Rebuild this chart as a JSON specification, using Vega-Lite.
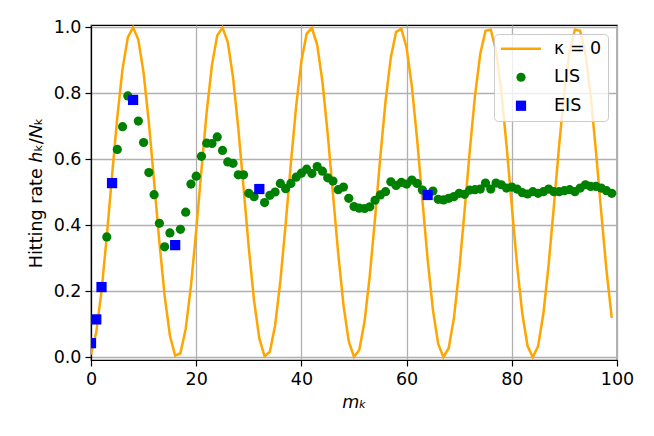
{
  "$schema": "https://vega.github.io/schema/vega-lite/v6.json",
  "width": 526,
  "height": 335,
  "autosize": {"type": "none"},
  "padding": {"left": 91, "top": 25, "right": 37, "bottom": 76},
  "background": "white",
  "datasets": {
    "kappa": [
      {"m":0,"h":0.0086,"s":"κ = 0"},{"m":1,"h":0.0758,"s":"κ = 0"},{"m":2,"h":0.2009,"s":"κ = 0"},{"m":3,"h":0.3668,"s":"κ = 0"},{"m":4,"h":0.5509,"s":"κ = 0"},
      {"m":5,"h":0.7280,"s":"κ = 0"},{"m":6,"h":0.8743,"s":"κ = 0"},{"m":7,"h":0.9695,"s":"κ = 0"},{"m":8,"h":0.9999,"s":"κ = 0"},{"m":9,"h":0.9623,"s":"κ = 0"},
      {"m":10,"h":0.8619,"s":"κ = 0"},{"m":11,"h":0.7115,"s":"κ = 0"},{"m":12,"h":0.5326,"s":"κ = 0"},{"m":13,"h":0.3490,"s":"κ = 0"},{"m":14,"h":0.1862,"s":"κ = 0"},
      {"m":15,"h":0.0662,"s":"κ = 0"},{"m":16,"h":0.0055,"s":"κ = 0"},{"m":17,"h":0.0124,"s":"κ = 0"},{"m":18,"h":0.0859,"s":"κ = 0"},{"m":19,"h":0.2160,"s":"κ = 0"},
      {"m":20,"h":0.3847,"s":"κ = 0"},{"m":21,"h":0.5691,"s":"κ = 0"},{"m":22,"h":0.7443,"s":"κ = 0"},{"m":23,"h":0.8861,"s":"κ = 0"},{"m":24,"h":0.9752,"s":"κ = 0"},
      {"m":25,"h":0.9992,"s":"κ = 0"},{"m":26,"h":0.9554,"s":"κ = 0"},{"m":27,"h":0.8486,"s":"κ = 0"},{"m":28,"h":0.6945,"s":"κ = 0"},{"m":29,"h":0.5140,"s":"κ = 0"},
      {"m":30,"h":0.3315,"s":"κ = 0"},{"m":31,"h":0.1719,"s":"κ = 0"},{"m":32,"h":0.0573,"s":"κ = 0"},{"m":33,"h":0.0031,"s":"κ = 0"},{"m":34,"h":0.0168,"s":"κ = 0"},
      {"m":35,"h":0.0966,"s":"κ = 0"},{"m":36,"h":0.2314,"s":"κ = 0"},{"m":37,"h":0.4030,"s":"κ = 0"},{"m":38,"h":0.5880,"s":"κ = 0"},{"m":39,"h":0.7608,"s":"κ = 0"},
      {"m":40,"h":0.8977,"s":"κ = 0"},{"m":41,"h":0.9807,"s":"κ = 0"},{"m":42,"h":0.9978,"s":"κ = 0"},{"m":43,"h":0.9471,"s":"κ = 0"},{"m":44,"h":0.8350,"s":"κ = 0"},
      {"m":45,"h":0.6773,"s":"κ = 0"},{"m":46,"h":0.4955,"s":"κ = 0"},{"m":47,"h":0.3141,"s":"κ = 0"},{"m":48,"h":0.1581,"s":"κ = 0"},{"m":49,"h":0.0489,"s":"κ = 0"},
      {"m":50,"h":0.0014,"s":"κ = 0"},{"m":51,"h":0.0220,"s":"κ = 0"},{"m":52,"h":0.1078,"s":"κ = 0"},{"m":53,"h":0.2474,"s":"κ = 0"},{"m":54,"h":0.4213,"s":"κ = 0"},
      {"m":55,"h":0.6064,"s":"κ = 0"},{"m":56,"h":0.7768,"s":"κ = 0"},{"m":57,"h":0.9087,"s":"κ = 0"},{"m":58,"h":0.9855,"s":"κ = 0"},{"m":59,"h":0.9958,"s":"κ = 0"},
      {"m":60,"h":0.9383,"s":"κ = 0"},{"m":61,"h":0.8212,"s":"κ = 0"},{"m":62,"h":0.6601,"s":"κ = 0"},{"m":63,"h":0.4768,"s":"κ = 0"},{"m":64,"h":0.2969,"s":"κ = 0"},
      {"m":65,"h":0.1448,"s":"κ = 0"},{"m":66,"h":0.0412,"s":"κ = 0"},{"m":67,"h":0.0004,"s":"κ = 0"},{"m":68,"h":0.0277,"s":"κ = 0"},{"m":69,"h":0.1197,"s":"κ = 0"},
      {"m":70,"h":0.2634,"s":"κ = 0"},{"m":71,"h":0.4397,"s":"κ = 0"},{"m":72,"h":0.6245,"s":"κ = 0"},{"m":73,"h":0.7921,"s":"κ = 0"},{"m":74,"h":0.9190,"s":"κ = 0"},
      {"m":75,"h":0.9896,"s":"κ = 0"},{"m":76,"h":0.9930,"s":"κ = 0"},{"m":77,"h":0.9290,"s":"κ = 0"},{"m":78,"h":0.8065,"s":"κ = 0"},{"m":79,"h":0.6421,"s":"κ = 0"},
      {"m":80,"h":0.4584,"s":"κ = 0"},{"m":81,"h":0.2800,"s":"κ = 0"},{"m":82,"h":0.1320,"s":"κ = 0"},{"m":83,"h":0.0342,"s":"κ = 0"},{"m":84,"h":0.0000,"s":"κ = 0"},
      {"m":85,"h":0.0342,"s":"κ = 0"},{"m":86,"h":0.1320,"s":"κ = 0"},{"m":87,"h":0.2800,"s":"κ = 0"},{"m":88,"h":0.4584,"s":"κ = 0"},{"m":89,"h":0.6421,"s":"κ = 0"},
      {"m":90,"h":0.8065,"s":"κ = 0"},{"m":91,"h":0.9290,"s":"κ = 0"},{"m":92,"h":0.9930,"s":"κ = 0"},{"m":93,"h":0.9896,"s":"κ = 0"},{"m":94,"h":0.9190,"s":"κ = 0"},
      {"m":95,"h":0.7921,"s":"κ = 0"},{"m":96,"h":0.6245,"s":"κ = 0"},{"m":97,"h":0.4397,"s":"κ = 0"},{"m":98,"h":0.2634,"s":"κ = 0"},{"m":99,"h":0.1197,"s":"κ = 0"}
    ],
    "lis": [
      {"m":0,"h":0.043,"s":"LIS"},{"m":1,"h":0.115,"s":"LIS"},{"m":2,"h":0.213,"s":"LIS"},{"m":3,"h":0.365,"s":"LIS"},{"m":4,"h":0.528,"s":"LIS"},
      {"m":5,"h":0.630,"s":"LIS"},{"m":6,"h":0.699,"s":"LIS"},{"m":7,"h":0.792,"s":"LIS"},{"m":8,"h":0.780,"s":"LIS"},{"m":9,"h":0.716,"s":"LIS"},
      {"m":10,"h":0.651,"s":"LIS"},{"m":11,"h":0.560,"s":"LIS"},{"m":12,"h":0.493,"s":"LIS"},{"m":13,"h":0.406,"s":"LIS"},{"m":14,"h":0.335,"s":"LIS"},
      {"m":15,"h":0.377,"s":"LIS"},{"m":16,"h":0.340,"s":"LIS"},{"m":17,"h":0.388,"s":"LIS"},{"m":18,"h":0.440,"s":"LIS"},{"m":19,"h":0.525,"s":"LIS"},
      {"m":20,"h":0.549,"s":"LIS"},{"m":21,"h":0.609,"s":"LIS"},{"m":22,"h":0.649,"s":"LIS"},{"m":23,"h":0.648,"s":"LIS"},{"m":24,"h":0.668,"s":"LIS"},
      {"m":25,"h":0.627,"s":"LIS"},{"m":26,"h":0.592,"s":"LIS"},{"m":27,"h":0.588,"s":"LIS"},{"m":28,"h":0.553,"s":"LIS"},{"m":29,"h":0.553,"s":"LIS"},
      {"m":30,"h":0.497,"s":"LIS"},{"m":31,"h":0.487,"s":"LIS"},{"m":32,"h":0.510,"s":"LIS"},{"m":33,"h":0.469,"s":"LIS"},{"m":34,"h":0.491,"s":"LIS"},
      {"m":35,"h":0.501,"s":"LIS"},{"m":36,"h":0.527,"s":"LIS"},{"m":37,"h":0.511,"s":"LIS"},{"m":38,"h":0.527,"s":"LIS"},{"m":39,"h":0.546,"s":"LIS"},
      {"m":40,"h":0.558,"s":"LIS"},{"m":41,"h":0.570,"s":"LIS"},{"m":42,"h":0.557,"s":"LIS"},{"m":43,"h":0.578,"s":"LIS"},{"m":44,"h":0.564,"s":"LIS"},
      {"m":45,"h":0.544,"s":"LIS"},{"m":46,"h":0.534,"s":"LIS"},{"m":47,"h":0.508,"s":"LIS"},{"m":48,"h":0.516,"s":"LIS"},{"m":49,"h":0.482,"s":"LIS"},
      {"m":50,"h":0.457,"s":"LIS"},{"m":51,"h":0.452,"s":"LIS"},{"m":52,"h":0.451,"s":"LIS"},{"m":53,"h":0.456,"s":"LIS"},{"m":54,"h":0.476,"s":"LIS"},
      {"m":55,"h":0.492,"s":"LIS"},{"m":56,"h":0.502,"s":"LIS"},{"m":57,"h":0.532,"s":"LIS"},{"m":58,"h":0.521,"s":"LIS"},{"m":59,"h":0.530,"s":"LIS"},
      {"m":60,"h":0.525,"s":"LIS"},{"m":61,"h":0.537,"s":"LIS"},{"m":62,"h":0.527,"s":"LIS"},{"m":63,"h":0.507,"s":"LIS"},{"m":64,"h":0.492,"s":"LIS"},
      {"m":65,"h":0.504,"s":"LIS"},{"m":66,"h":0.479,"s":"LIS"},{"m":67,"h":0.477,"s":"LIS"},{"m":68,"h":0.482,"s":"LIS"},{"m":69,"h":0.487,"s":"LIS"},
      {"m":70,"h":0.497,"s":"LIS"},{"m":71,"h":0.494,"s":"LIS"},{"m":72,"h":0.507,"s":"LIS"},{"m":73,"h":0.508,"s":"LIS"},{"m":74,"h":0.510,"s":"LIS"},
      {"m":75,"h":0.528,"s":"LIS"},{"m":76,"h":0.510,"s":"LIS"},{"m":77,"h":0.528,"s":"LIS"},{"m":78,"h":0.523,"s":"LIS"},{"m":79,"h":0.513,"s":"LIS"},
      {"m":80,"h":0.516,"s":"LIS"},{"m":81,"h":0.510,"s":"LIS"},{"m":82,"h":0.499,"s":"LIS"},{"m":83,"h":0.495,"s":"LIS"},{"m":84,"h":0.502,"s":"LIS"},
      {"m":85,"h":0.497,"s":"LIS"},{"m":86,"h":0.502,"s":"LIS"},{"m":87,"h":0.510,"s":"LIS"},{"m":88,"h":0.502,"s":"LIS"},{"m":89,"h":0.502,"s":"LIS"},
      {"m":90,"h":0.505,"s":"LIS"},{"m":91,"h":0.508,"s":"LIS"},{"m":92,"h":0.502,"s":"LIS"},{"m":93,"h":0.513,"s":"LIS"},{"m":94,"h":0.523,"s":"LIS"},
      {"m":95,"h":0.518,"s":"LIS"},{"m":96,"h":0.518,"s":"LIS"},{"m":97,"h":0.513,"s":"LIS"},{"m":98,"h":0.505,"s":"LIS"},{"m":99,"h":0.497,"s":"LIS"}
    ],
    "eis": [
      {"m":0,"h":0.043,"s":"EIS"},{"m":1,"h":0.115,"s":"EIS"},{"m":2,"h":0.213,"s":"EIS"},{"m":4,"h":0.528,"s":"EIS"},
      {"m":8,"h":0.780,"s":"EIS"},{"m":16,"h":0.340,"s":"EIS"},{"m":32,"h":0.510,"s":"EIS"},{"m":64,"h":0.492,"s":"EIS"}
    ]
  },
  "layer": [
    {
      "data": {"name": "kappa"},
      "mark": {"type": "line", "strokeWidth": 2.5, "clip": true},
      "encoding": {
        "x": {"field": "m", "type": "quantitative"},
        "y": {"field": "h", "type": "quantitative"},
        "color": {"field": "s", "type": "nominal"}
      }
    },
    {
      "data": {"name": "lis"},
      "mark": {"type": "point", "filled": true, "opacity": 1, "size": 85, "clip": true},
      "encoding": {
        "x": {"field": "m", "type": "quantitative"},
        "y": {"field": "h", "type": "quantitative"},
        "color": {"field": "s", "type": "nominal"},
        "shape": {"field": "s", "type": "nominal"}
      }
    },
    {
      "data": {"name": "eis"},
      "mark": {"type": "point", "filled": true, "opacity": 1, "size": 105, "clip": true},
      "encoding": {
        "x": {"field": "m", "type": "quantitative"},
        "y": {"field": "h", "type": "quantitative"},
        "color": {"field": "s", "type": "nominal"},
        "shape": {"field": "s", "type": "nominal"}
      }
    }
  ],
  "encoding": {
    "x": {
      "field": "m", "type": "quantitative", "title": "mₖ",
      "scale": {"domain": [0, 100], "nice": false, "zero": false},
      "axis": {"values": [0, 20, 40, 60, 80, 100], "titleFontStyle": "italic", "labelFlush": false, "titlePadding": 6}
    },
    "y": {
      "field": "h", "type": "quantitative", "title": "Hitting rate  ℎₖ/𝑁ₖ",
      "scale": {"domain": [-0.008, 1.007], "nice": false, "zero": false},
      "axis": {"values": [0, 0.2, 0.4, 0.6, 0.8, 1.0], "format": ".1f", "labelFlush": false, "titlePadding": 8}
    },
    "color": {
      "field": "s", "type": "nominal", "title": null,
      "scale": {"domain": ["κ = 0", "LIS", "EIS"], "range": ["#FFA500", "#008000", "#0000FF"]},
      "legend": {
        "title": null,
        "encode": {
          "symbols": {"update": {
            "stroke": {"scale": "color", "field": "value"},
            "fill": {"scale": "color", "field": "value"},
            "strokeWidth": {"signal": "datum.value === 'κ = 0' ? 2.5 : 0"},
            "size": {"signal": "datum.value === 'κ = 0' ? 1600 : datum.value === 'LIS' ? 85 : 105"},
            "x": {"value": 21}
          }},
          "labels": {"update": {"x": {"value": 54}}}
        }
      }
    },
    "shape": {
      "field": "s", "type": "nominal", "title": null,
      "scale": {"domain": ["κ = 0", "LIS", "EIS"], "range": ["stroke", "circle", "square"]}
    }
  },
  "config": {
    "font": "DejaVu Sans",
    "view": {"stroke": "#000000", "strokeWidth": 1.2},
    "axis": {
      "labelFont": "DejaVu Sans", "titleFont": "DejaVu Sans",
      "labelFontSize": 17.5, "titleFontSize": 17.5, "titleFontWeight": "normal",
      "labelColor": "#000000", "titleColor": "#000000",
      "domainColor": "#000000", "domainWidth": 1.2,
      "tickColor": "#000000", "tickWidth": 1.2, "tickSize": 6,
      "labelPadding": 4,
      "gridColor": "#b0b0b0", "gridWidth": 1.3, "grid": true
    },
    "axisY": {"labelBaseline": "middle"},
    "legend": {
      "orient": "top-right", "offset": 9,
      "labelFont": "DejaVu Sans", "labelFontSize": 17.5, "labelColor": "#000000",
      "fillColor": "rgba(255,255,255,0.8)", "strokeColor": "#cccccc",
      "cornerRadius": 4, "padding": 6, "rowPadding": 9.5,
      "symbolSize": 100
    }
  }
}
